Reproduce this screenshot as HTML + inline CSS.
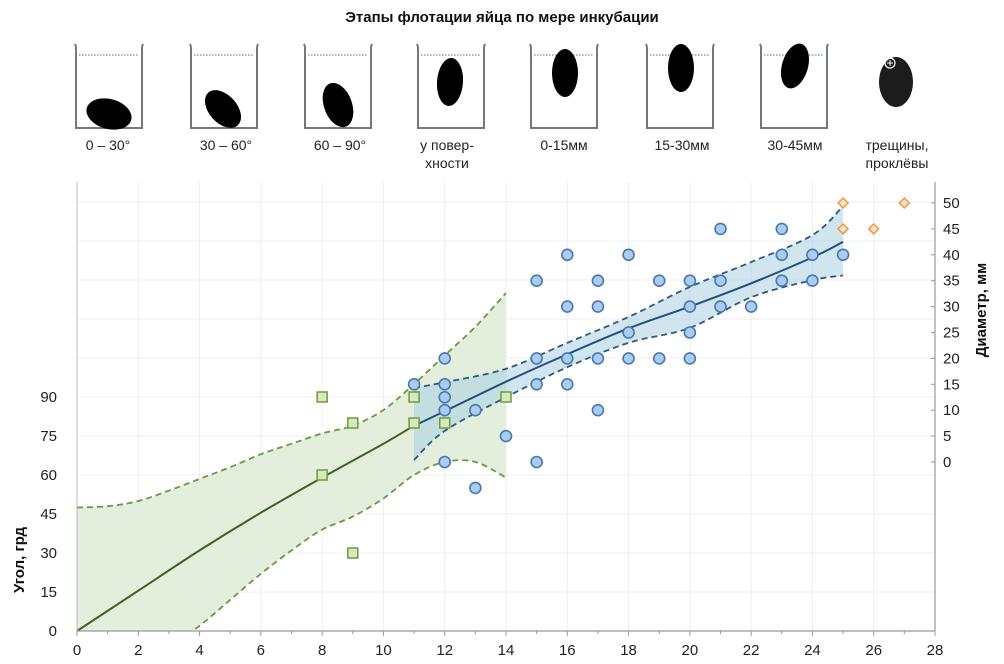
<!DOCTYPE html>
<html><head><meta charset="utf-8">
<style>
html,body{margin:0;padding:0;background:#fff;width:1004px;height:664px;overflow:hidden;}
svg{display:block;font-family:"Liberation Sans","DejaVu Sans",sans-serif;}
</style></head>
<body>
<svg id="chart" width="1004" height="664" viewBox="0 0 1004 664">
<text x="502" y="22" text-anchor="middle" font-size="15" font-weight="bold" fill="#111">Этапы флотации яйца по мере инкубации</text>
<g id="header"></g>
<g id="grid"></g>
<g id="bands"></g>
<g id="lines"></g>
<g id="points"></g>
<g id="axes"></g>
<text transform="translate(24,560) rotate(-90)" text-anchor="middle" font-size="15" font-weight="bold" fill="#111">Угол, грд</text>
<text transform="translate(986,310) rotate(-90)" text-anchor="middle" font-size="15" font-weight="bold" fill="#111">Диаметр, мм</text>
</svg>
<script>
// ---- data ----
const xTicks = [0,2,4,6,8,10,12,14,16,18,20,22,24,26,28];
const leftTicks = [0,15,30,45,60,75,90];
const rightTicks = [0,5,10,15,20,25,30,35,40,45,50];
const angleX = [8,8,9,9,11,11,12,14];
const angleY = [90,60,80,30,90,80,80,90];
const diamX = [11,12,12,12,12,12,13,13,14,15,15,15,15,16,16,16,16,17,17,17,17,18,18,18,19,19,20,20,20,20,21,21,21,22,23,23,23,24,24,25];
const diamY = [15,20,15,12.5,10,0,10,-5,5,35,20,15,0,40,30,20,15,35,30,20,10,40,25,20,35,20,35,30,25,20,45,35,30,30,45,40,35,40,35,40];
const crackX = [25,25,26,27];
const crackY = [50,45,45,50];
const gFitX = [0,2,4,6,8,10,11];
const gFitY = [0,15.5,31,45.5,59,72,79];
const gBandX = [0,1,2,3,4,5,6,7,8,9,10,11,12,13,14];
const gUpper = [47.5,48,50,54,58.5,63,68,72,76,79,85,95,106,117,130];
const gLower = [-28,-20,-13,-6,2,12,22,31,39,44,51,60,65,65,59];
const bFitX = [11,12,14,16,18,20,22,24,25];
const bFit = [7,9.8,15.5,20.8,25.8,30,34.5,39.5,42.5];
const bUpper = [14.3,15.4,18,23,28,33.8,38.6,43.8,49.4];
const bLower = [0.4,6,12.5,18.3,23,25.9,31.8,35.1,36];
const stageLabels = [["0 – 30°"],["30 – 60°"],["60 – 90°"],["у повер-","хности"],["0-15мм"],["15-30мм"],["30-45мм"],["трещины,","проклёвы"]];

// ---- scales ----
const X0=77, X1=935, YB=631;
const sx = v => X0 + v*(X1-X0)/28;
const syL = v => YB - v*2.6;
const syR = v => 462 - v*5.18;
const NS="http://www.w3.org/2000/svg";
function mk(tag, parent, attrs){const e=document.createElementNS(NS,tag);for(const k in attrs)e.setAttribute(k,attrs[k]);parent.appendChild(e);return e;}
const grid=document.getElementById('grid'), axes=document.getElementById('axes'),
 bands=document.getElementById('bands'), lines=document.getElementById('lines'),
 pts=document.getElementById('points'), header=document.getElementById('header');

// header beakers
const beakerL=[76,191,305,418,531,647,761];
const eggs=[[109,114,23,15,15],[223,109,22,14,48],[338,105,23,14,70],[450,82,13,24,4],[565,73,13,24,0],[681,68,13,24,0],[795,66,13,23,16]];
beakerL.forEach((bx,i)=>{
  const g=mk('g',header,{});
  
  
  mk('path',g,{d:`M${bx-1} 44 Q${bx} 46 ${bx} 48 L${bx} 128 L${bx+66} 128 L${bx+66} 48 Q${bx+66} 46 ${bx+67} 44`,fill:'none',stroke:'#777','stroke-width':2});
  mk('line',g,{x1:bx+3,x2:bx+63,y1:55,y2:55,stroke:'#5a8fc0','stroke-width':1.3,'stroke-dasharray':'1.5,1.5'});
  const e=eggs[i];
  mk('ellipse',g,{cx:e[0],cy:e[1],rx:e[2],ry:e[3],fill:'#000',transform:`rotate(${e[4]} ${e[0]} ${e[1]})`});
});
const eg=mk('g',header,{});


mk('ellipse',eg,{cx:896,cy:82,rx:17,ry:25,fill:'#1c1c1c'});
mk('circle',eg,{cx:890,cy:63,r:5,fill:'none',stroke:'#fff','stroke-width':1.2});
mk('path',eg,{d:'M887 63 L893 63 M890 60 L890 66',stroke:'#fff','stroke-width':1});
const labelX=[108,226,340,447,564,682,795,897];
stageLabels.forEach((ls,i)=>{
  ls.forEach((t,j)=>{
    const tx=mk('text',header,{x:labelX[i],y:150+j*18,'text-anchor':'middle','font-size':14,fill:'#222'});
    
    
    tx.textContent=t;
  });
});

// grid
xTicks.forEach(v=>{ if(v>0&&v<28) mk('line',grid,{x1:sx(v),x2:sx(v),y1:182,y2:YB,stroke:'#eceff0','stroke-width':1}); });
for(let k=1;k<=11;k++){ mk('line',grid,{x1:X0,x2:X1,y1:syL(15*k),y2:syL(15*k),stroke:'#eceff0','stroke-width':1}); }

// smooth path helpers (Catmull-Rom)
function smooth(P){
  let d='M'+P[0][0]+' '+P[0][1];
  for(let i=0;i<P.length-1;i++){
    const p0=P[Math.max(0,i-1)],p1=P[i],p2=P[i+1],p3=P[Math.min(P.length-1,i+2)];
    const c1x=p1[0]+(p2[0]-p0[0])/6,c1y=p1[1]+(p2[1]-p0[1])/6;
    const c2x=p2[0]-(p3[0]-p1[0])/6,c2y=p2[1]-(p3[1]-p1[1])/6;
    d+=` C${c1x} ${c1y} ${c2x} ${c2y} ${p2[0]} ${p2[1]}`;
  }
  return d;
}
const pts2=(xs,ys,sy)=>xs.map((x,i)=>[sx(x),sy(ys[i])]);
function linePath(xs,ys,sy){return smooth(pts2(xs,ys,sy));}
function bandPath(xs,up,lo,sy){
  const U=pts2(xs,up,sy), L=pts2(xs,lo,sy).reverse();
  return smooth(U)+' L'+L[0][0]+' '+L[0][1]+' '+smooth(L).slice(1).replace(/^[^C]*/,'')+'Z';
}
const cp=mk('clipPath',bands,{id:'clip'});
mk('rect',cp,{x:X0,y:170,width:X1-X0,height:YB-170});
const gb=mk('path',bands,{d:bandPath(gBandX,gUpper,gLower,syL),fill:'#e3efdc','clip-path':'url(#clip)'});


const bb=mk('path',bands,{d:bandPath(bFitX,bUpper,bLower,syR),fill:'#a9cfe0','fill-opacity':0.55});


[gUpper,gLower].forEach(a=>mk('path',lines,{d:linePath(gBandX,a,syL),fill:'none',stroke:'#6a9a40','stroke-width':1.8,'stroke-dasharray':'6,4','clip-path':'url(#clip)'}));
[bUpper,bLower].forEach(a=>mk('path',lines,{d:linePath(bFitX,a,syR),fill:'none',stroke:'#2a5a80','stroke-width':1.8,'stroke-dasharray':'6,4'}));
const gl=mk('path',lines,{d:linePath(gFitX,gFitY,syL),fill:'none',stroke:'#3d6320','stroke-width':2});


const bl=mk('path',lines,{d:linePath(bFitX,bFit,syR),fill:'none',stroke:'#1f5080','stroke-width':2});



// points
diamX.forEach((x,i)=>{
  const c=mk('circle',pts,{cx:sx(x),cy:syR(diamY[i]),r:5.5,fill:'#a9cdf0','stroke':'#4a77b0','stroke-width':1.6});
  
  
});
angleX.forEach((x,i)=>{
  const r=mk('rect',pts,{x:sx(x)-5,y:syL(angleY[i])-5,width:10,height:10,fill:'#d8e8c0',stroke:'#6f9a3a','stroke-width':1.5});
  
  
});
crackX.forEach((x,i)=>{
  const cx=sx(x),cy=syR(crackY[i]);
  const d=mk('path',pts,{d:`M${cx} ${cy-5} L${cx+5} ${cy} L${cx} ${cy+5} L${cx-5} ${cy}Z`,fill:'#fde0c0',stroke:'#e89a48','stroke-width':1.5});
  
  
});

// axes
mk('line',axes,{x1:X0,x2:X1,y1:YB,y2:YB,stroke:'#999','stroke-width':1.2});
mk('line',axes,{x1:X0,x2:X0,y1:182,y2:YB,stroke:'#bbb','stroke-width':1});
mk('line',axes,{x1:X1,x2:X1,y1:182,y2:YB,stroke:'#999','stroke-width':1.2});
for(let v=0;v<=28;v++) mk('line',axes,{x1:sx(v),x2:sx(v),y1:YB,y2:YB+(v%2?3:5),stroke:'#999'});
xTicks.forEach(v=>{const t=mk('text',axes,{x:sx(v),y:655,'text-anchor':'middle','font-size':15,fill:'#222'});
 
 
 t.textContent=v;});
leftTicks.forEach(v=>{const t=mk('text',axes,{x:57,y:syL(v)+5,'text-anchor':'end','font-size':15,fill:'#222'});
 
 
 t.textContent=v;});
rightTicks.forEach(v=>{mk('line',axes,{x1:X1-4,x2:X1,y1:syR(v),y2:syR(v),stroke:'#999'});
 const t=mk('text',axes,{x:943,y:syR(v)+5,'font-size':15,fill:'#222'});
 
 
 t.textContent=v;});
</script>
</body></html>
